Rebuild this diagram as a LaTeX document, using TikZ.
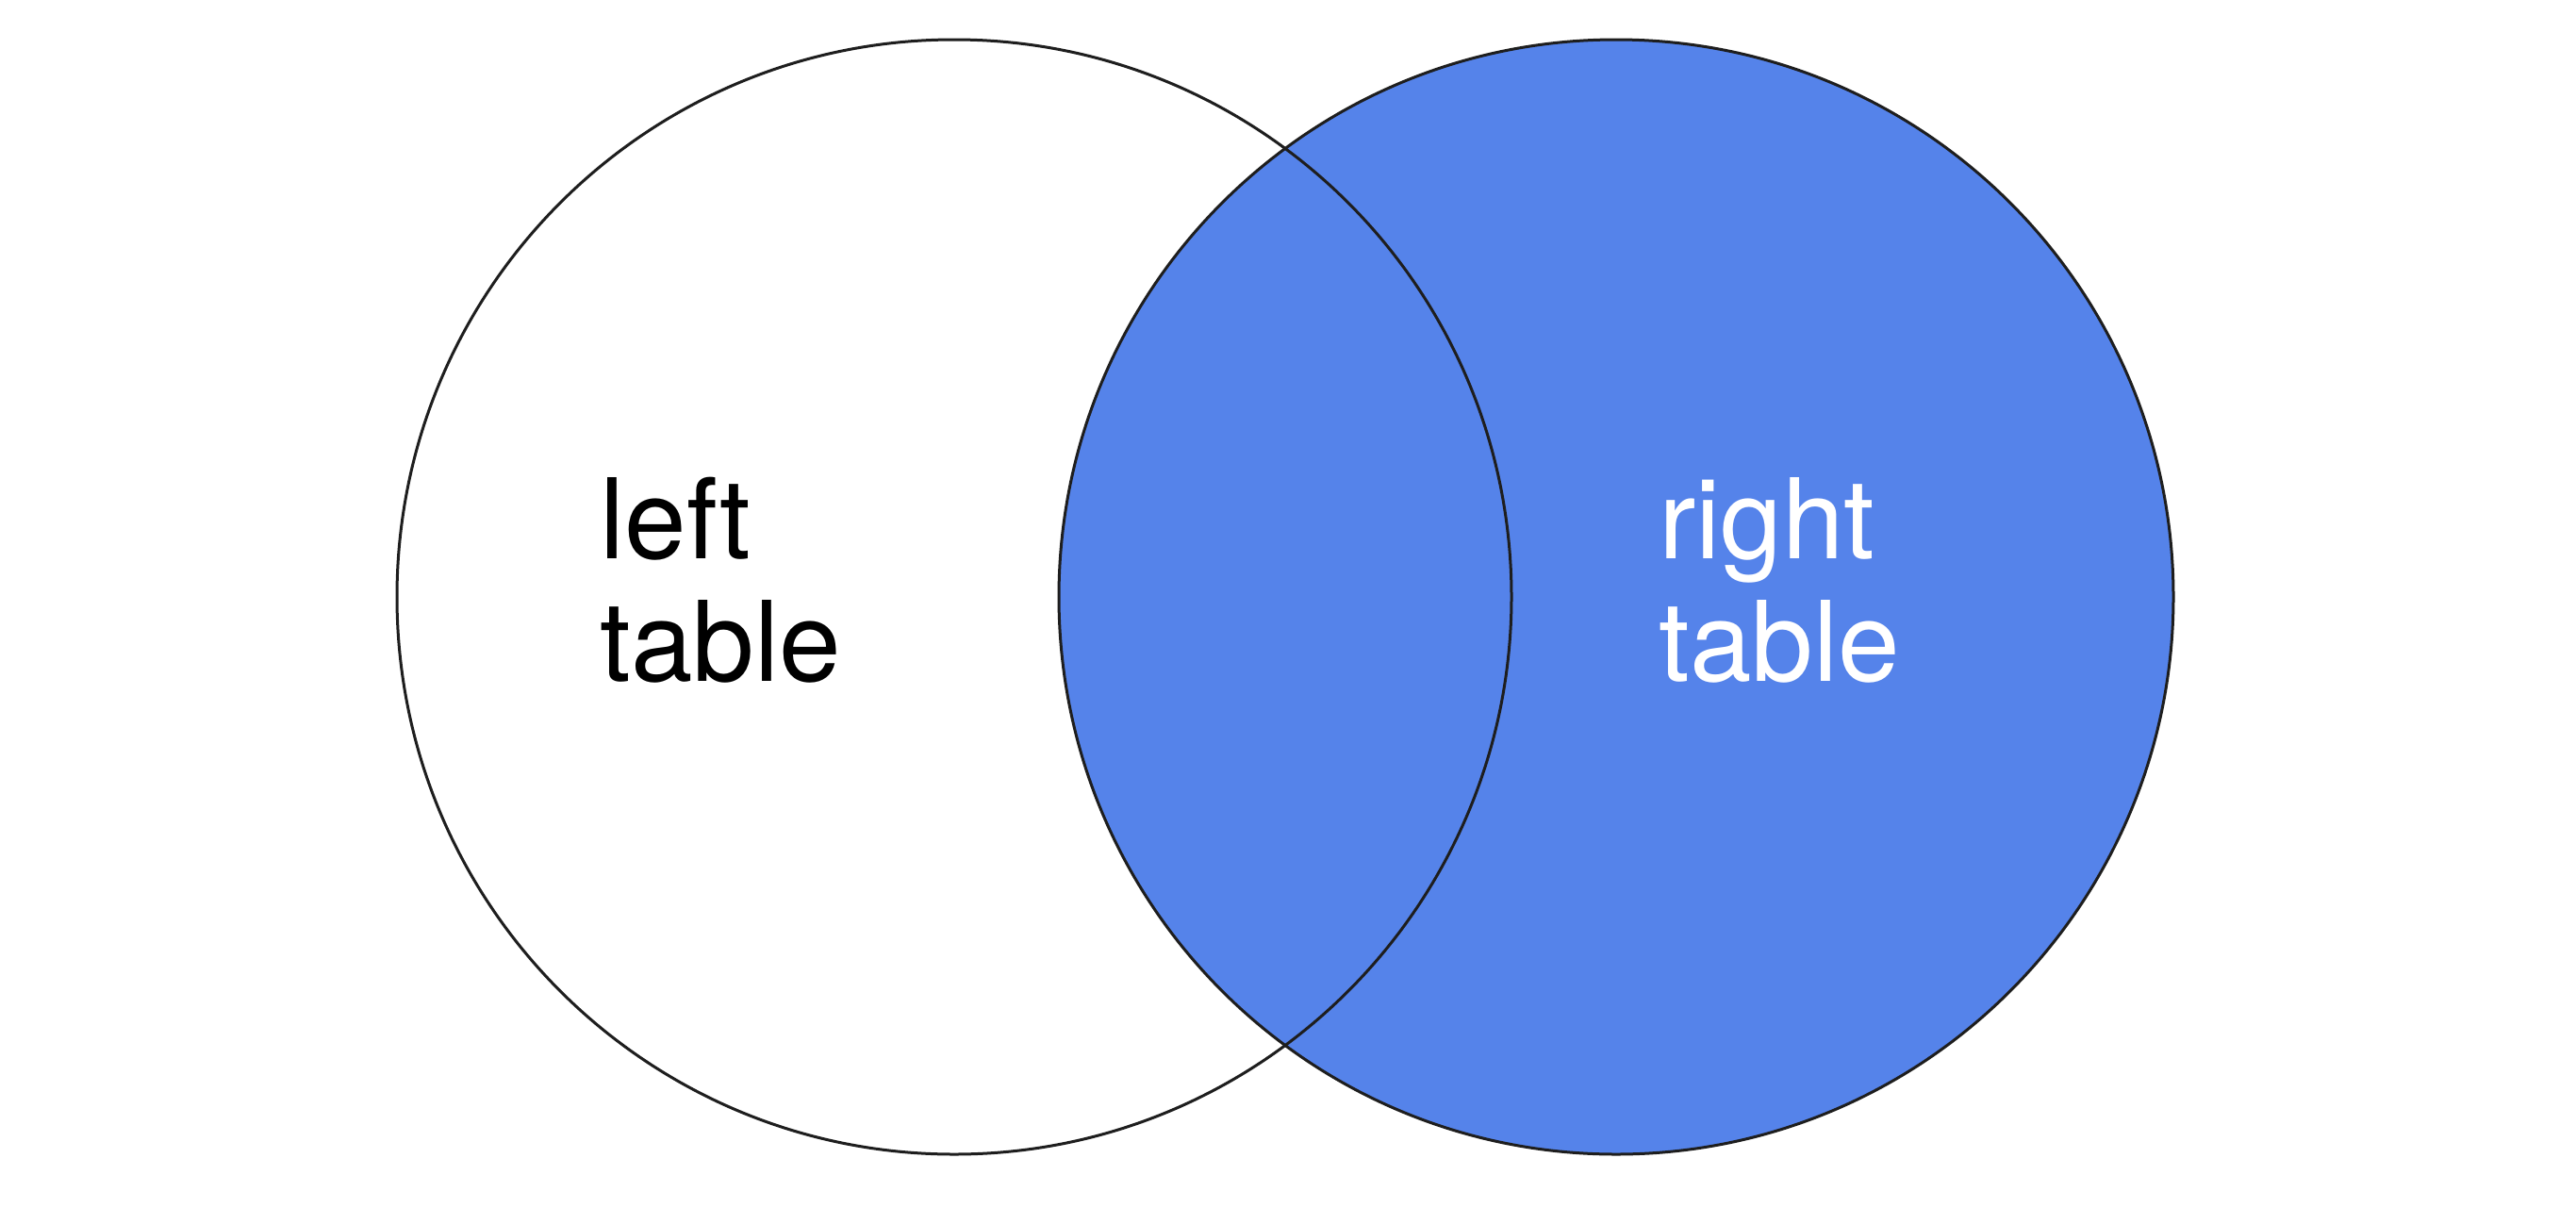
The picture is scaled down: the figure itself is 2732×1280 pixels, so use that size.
\documentclass[tikz,border=0pt]{standalone}
\usepackage{fontspec}
\setmainfont{TeX Gyre Heros}
\definecolor{setblue}{RGB}{85,131,234}
\definecolor{rimgray}{RGB}{30,30,30}
\begin{document}
\begin{tikzpicture}[x=1pt,y=-1pt,
  setrim/.style={draw=rimgray,line width=3pt},
  setlabel/.style={anchor=base west,inner sep=0pt,align=left,
    font=\fontsize{118}{130}\selectfont}]
\useasboundingbox[fill=white] (0,0) rectangle (2732,1280);
% the two sets
\coordinate (lc) at (1012,633);
\coordinate (rc) at (1714,633);
\fill[setblue] (rc) circle[radius=591];
\draw[setrim] (lc) circle[radius=591];
\draw[setrim] (rc) circle[radius=591];
% labels (anchored at the baseline of the second line)
\node[setlabel,text=black] (lefttxt) at (636,722) {left\\table};
\node[setlabel,text=white] (righttxt) at (1759,722) {right\\table};
\end{tikzpicture}
\end{document}
